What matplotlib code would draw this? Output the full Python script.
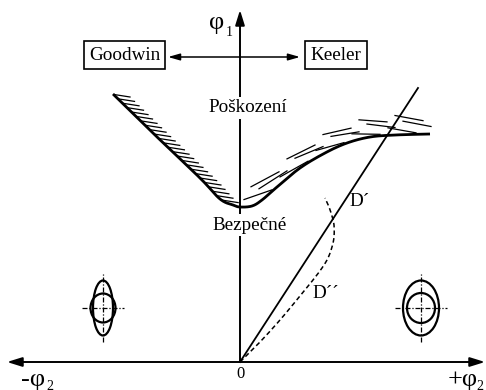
import numpy as np
import matplotlib
matplotlib.use("Agg")
import matplotlib.pyplot as plt
from matplotlib.patches import Ellipse

# Forming limit curve: major strain (phi1) against minor strain (phi2), diagram units
flc_x = [-127, -85, -40, -20, -7, 0, 12, 22, 37, 60, 85, 107, 130, 155, 190]
flc_y = [268, 227, 184, 163, 157, 155, 156, 162, 175, 194, 209, 219, 225, 227, 228]

# Strain path D' (linear) and D'' (non-linear)
dlin_x = [0, 178]
dlin_y = [0, 274]
dnl_x = [0, 20, 40, 60, 73, 82, 88, 92, 94, 94, 92, 89, 85]
dnl_y = [0, 20, 42, 66, 82, 94, 104, 115, 125, 137, 146, 155, 164]

# Deformed grid symbols: centre, ellipse (w, h), circle (w, h), cross half-lengths
sym_centres = [(-137, 54), (181, 54)]
sym_ellipse = [(20, 55), (36, 55)]
sym_circle = [(25, 29), (28, 30)]
sym_cross = [(21, 34), (26, 34)]

SERIF = ["Liberation Serif", "DejaVu Serif"]


def smooth(xs, ys, n=14):
    """Catmull-Rom curve through the given points."""
    pts = np.column_stack([xs, ys]).astype(float)
    p = np.vstack([pts[0], pts, pts[-1]])
    out = []
    t = np.linspace(0, 1, n, endpoint=False)[:, None]
    for i in range(1, len(p) - 2):
        p0, p1, p2, p3 = p[i - 1], p[i], p[i + 1], p[i + 2]
        seg = 0.5 * ((2 * p1) + (-p0 + p2) * t
                     + (2 * p0 - 5 * p1 + 4 * p2 - p3) * t ** 2
                     + (-p0 + 3 * p1 - 3 * p2 + p3) * t ** 3)
        out.append(seg)
    out.append(pts[-1:])
    return np.vstack(out)


fig = plt.figure(figsize=(4.86, 3.90), dpi=100)
ax = fig.add_axes([0, 0, 1, 1])
ax.set_xlim(-240, 246)
ax.set_ylim(-28, 362)
ax.axis("off")

# Axes with arrow heads
ax.annotate("", xy=(-233, 0), xytext=(245, 0),
            arrowprops=dict(arrowstyle="<|-|>,head_length=0.9,head_width=0.28",
                            lw=1.4, color="black", shrinkA=0, shrinkB=0))
ax.annotate("", xy=(0, 352), xytext=(0, 0),
            arrowprops=dict(arrowstyle="-|>,head_length=0.9,head_width=0.28",
                            lw=1.4, color="black", shrinkA=0, shrinkB=0))

# Goodwin / Keeler double arrow
ax.annotate("", xy=(-72, 305), xytext=(60, 305),
            arrowprops=dict(arrowstyle="<|-|>,head_length=0.7,head_width=0.2",
                            lw=1.1, color="black", shrinkA=0, shrinkB=0))
ax.text(-115.5, 307, "Goodwin", fontsize=13.8, family=SERIF, ha="center", va="center",
        bbox=dict(boxstyle="square,pad=0.28", fc="white", ec="black", lw=1.2))
ax.text(96, 307, "Keeler", fontsize=13.8, family=SERIF, ha="center", va="center",
        bbox=dict(boxstyle="square,pad=0.28", fc="white", ec="black", lw=1.2))

# Forming limit curve
curve = smooth(flc_x, flc_y)
ax.plot(curve[:, 0], curve[:, 1], color="black", lw=2.0, solid_capstyle="butt", zorder=4)

# Hatching on the failure side of the curve
imin = int(np.argmin(curve[:, 1]))
left = curve[: imin + 1]
right = curve[imin:]
for lvl in np.arange(267, 157, -4.4):
    x0 = np.interp(lvl, left[::-1, 1], left[::-1, 0])
    ax.plot([x0, x0 + 16], [lvl + 0.5, lvl - 2], color="black", lw=0.9, zorder=3)

fr = lambda x: np.interp(x, right[:, 0], right[:, 1])
rows = [(4, 0.0), (10, 15.0), (16, 7.0)]
for off, shift in rows:
    xa = 4 + shift
    while xa < 180:
        xb = min(xa + 28, 196)
        if xb - xa < 14:
            break
        ax.plot([xa, xb], [fr(xa) + off + 3.5, fr(xb) + off - 2.5],
                color="black", lw=0.9, zorder=3)
        xa = xb + 8

# Strain paths
ax.plot(dlin_x, dlin_y, color="black", lw=1.3, zorder=4)
dn = smooth(dnl_x, dnl_y)
ax.plot(dn[:, 0], dn[:, 1], color="black", lw=1.1, ls=(0, (3, 2)), zorder=4)

# Region labels (white background breaks the vertical axis)
ax.text(8, 254, "Poškození", fontsize=13.8, family=SERIF, ha="center", va="center",
        bbox=dict(boxstyle="square,pad=0.15", fc="white", ec="none"), zorder=5)
ax.text(10, 137, "Bezpečné", fontsize=13.8, family=SERIF, ha="center", va="center",
        bbox=dict(boxstyle="square,pad=0.15", fc="white", ec="none"), zorder=5)
ax.text(120, 161, "D\u00b4", fontsize=13.8, family=SERIF, ha="center", va="center", zorder=5)
ax.text(86, 69, "D\u00b4\u00b4", fontsize=13.8, family=SERIF, ha="center", va="center", zorder=5)

# Axis labels
ax.text(-23, 339, "φ", fontsize=19, family=SERIF, ha="center", va="center")
ax.text(-11, 329, "1", fontsize=10, family=SERIF, ha="center", va="center")
ax.text(0, -12, "0", fontsize=12, family=SERIF, ha="center", va="center")
ax.text(-207, -18, "-φ", fontsize=19, family=SERIF, ha="center", va="center")
ax.text(-190, -24, "2", fontsize=10, family=SERIF, ha="center", va="center")
ax.text(223, -18, "+φ", fontsize=19, family=SERIF, ha="center", va="center")
ax.text(240, -24, "2", fontsize=10, family=SERIF, ha="center", va="center")

# Deformed grid symbols
for (cx, cy), (ew, eh), (cw, ch), (hx, hy) in zip(sym_centres, sym_ellipse, sym_circle, sym_cross):
    ax.plot([cx - hx, cx + hx], [cy, cy], color="black", lw=0.9, ls=(0, (4, 1.5, 1, 1.5)))
    ax.plot([cx, cx], [cy - hy, cy + hy], color="black", lw=0.9, ls=(0, (4, 1.5, 1, 1.5)))
    ax.add_patch(Ellipse((cx, cy), ew, eh, fill=False, ec="black", lw=1.6))
    ax.add_patch(Ellipse((cx, cy), cw, ch, fill=False, ec="black", lw=1.6))

fig.savefig("out.png", dpi=100, facecolor="white")
